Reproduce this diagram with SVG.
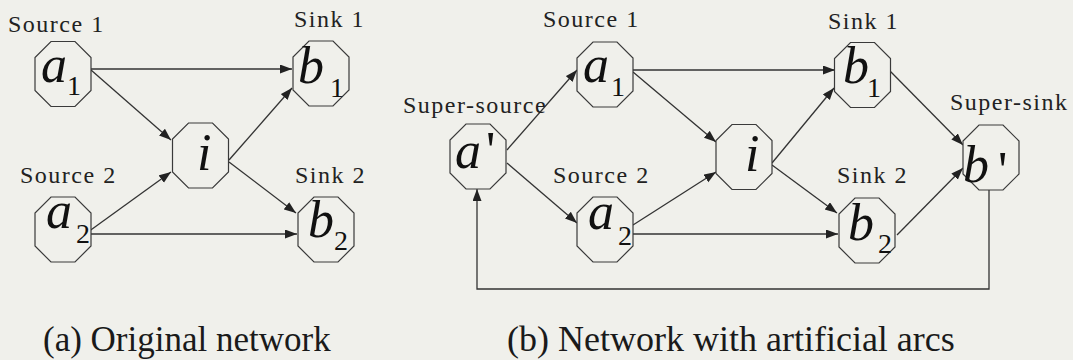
<svg xmlns="http://www.w3.org/2000/svg" width="1073" height="360" viewBox="0 0 1073 360">
<defs>
<marker id="ah" markerUnits="userSpaceOnUse" markerWidth="13" markerHeight="10" refX="12" refY="4.5" orient="auto">
<path d="M0,0 L12,4.5 L0,9 z" fill="#222"/>
</marker>
<polygon id="o" fill="#f0f0eb" stroke="#3a3a3a" stroke-width="1.2" points="-12,-32.5 12,-32.5 28,-16.5 28,16.5 12,32.5 -12,32.5 -28,16.5 -28,-16.5"/>
</defs>
<rect x="0" y="0" width="1073" height="360" fill="#f0f0eb"/>

<g id="connectors" fill="none" stroke="#333" stroke-width="1.3" marker-end="url(#ah)">
<line x1="91" y1="69" x2="292" y2="69"/>
<line x1="91" y1="70" x2="171" y2="140"/>
<line x1="88" y1="232" x2="171" y2="172"/>
<line x1="229" y1="160" x2="292" y2="88"/>
<line x1="229" y1="162" x2="296" y2="213"/>
<line x1="91" y1="234" x2="297" y2="234"/>
<line x1="507" y1="150" x2="577" y2="70"/>
<line x1="507" y1="163" x2="577" y2="223"/>
<line x1="633" y1="70" x2="835" y2="70"/>
<line x1="633" y1="72" x2="716" y2="142"/>
<line x1="633" y1="225" x2="716" y2="172"/>
<line x1="633" y1="234" x2="838" y2="234"/>
<line x1="772" y1="163" x2="834" y2="88"/>
<line x1="772" y1="165" x2="837" y2="213"/>
<line x1="890" y1="71" x2="963" y2="145"/>
<line x1="897" y1="235" x2="963" y2="168"/>
<polyline points="989,190 989,289 477,289 477,189"/>
</g>

<g id="L-a1">
<use href="#o" x="63" y="74"/>
<text font-family="Times New Roman, Liberation Serif, serif" font-size="24" letter-spacing="1.5" fill="#222" x="8" y="32">Source 1</text>
<text font-family="Times New Roman, Liberation Serif, serif" font-style="italic" font-size="52" fill="#111" x="41" y="82">a</text>
<text font-family="Times New Roman, Liberation Serif, serif" font-size="28" fill="#111" x="67" y="95">1</text>
</g>
<g id="L-b1">
<use href="#o" x="321" y="73.5"/>
<text font-family="Times New Roman, Liberation Serif, serif" font-size="24" letter-spacing="1.5" fill="#222" x="294" y="27">Sink 1</text>
<text font-family="Times New Roman, Liberation Serif, serif" font-style="italic" font-size="52" fill="#111" x="298" y="83">b</text>
<text font-family="Times New Roman, Liberation Serif, serif" font-size="28" fill="#111" x="330" y="97">1</text>
</g>
<g id="L-i">
<use href="#o" x="200.5" y="155.5"/>
<text font-family="Times New Roman, Liberation Serif, serif" font-style="italic" font-size="52" fill="#111" x="197" y="170">i</text>
</g>
<g id="L-a2">
<use href="#o" x="63" y="229.5"/>
<text font-family="Times New Roman, Liberation Serif, serif" font-size="24" letter-spacing="1.5" fill="#222" x="20" y="183">Source 2</text>
<text font-family="Times New Roman, Liberation Serif, serif" font-style="italic" font-size="52" fill="#111" x="46" y="228">a</text>
<text font-family="Times New Roman, Liberation Serif, serif" font-size="28" fill="#111" x="76" y="243">2</text>
</g>
<g id="L-b2">
<use href="#o" x="326" y="229.5"/>
<text font-family="Times New Roman, Liberation Serif, serif" font-size="24" letter-spacing="1.5" fill="#222" x="295" y="183">Sink 2</text>
<text font-family="Times New Roman, Liberation Serif, serif" font-style="italic" font-size="52" fill="#111" x="308" y="237">b</text>
<text font-family="Times New Roman, Liberation Serif, serif" font-size="28" fill="#111" x="334" y="250">2</text>
</g>

<g id="R-asuper">
<use href="#o" x="478" y="156.5"/>
<text font-family="Times New Roman, Liberation Serif, serif" font-size="24" letter-spacing="1.5" fill="#222" x="403" y="113">Super-source</text>
<text font-family="Times New Roman, Liberation Serif, serif" font-style="italic" font-size="52" fill="#111" x="455" y="168">a</text>
<text font-family="Times New Roman, Liberation Serif, serif" font-size="52" fill="#111" x="486" y="168">'</text>
</g>
<g id="R-a1">
<use href="#o" x="605" y="74.5"/>
<text font-family="Times New Roman, Liberation Serif, serif" font-size="24" letter-spacing="1.5" fill="#222" x="543" y="27">Source 1</text>
<text font-family="Times New Roman, Liberation Serif, serif" font-style="italic" font-size="52" fill="#111" x="583" y="82">a</text>
<text font-family="Times New Roman, Liberation Serif, serif" font-size="28" fill="#111" x="611" y="96">1</text>
</g>
<g id="R-a2">
<use href="#o" x="605" y="229.5"/>
<text font-family="Times New Roman, Liberation Serif, serif" font-size="24" letter-spacing="1.5" fill="#222" x="553" y="183">Source 2</text>
<text font-family="Times New Roman, Liberation Serif, serif" font-style="italic" font-size="52" fill="#111" x="588" y="229">a</text>
<text font-family="Times New Roman, Liberation Serif, serif" font-size="28" fill="#111" x="618" y="245">2</text>
</g>
<g id="R-i">
<use href="#o" x="744" y="157"/>
<text font-family="Times New Roman, Liberation Serif, serif" font-style="italic" font-size="52" fill="#111" x="745" y="171">i</text>
</g>
<g id="R-b1">
<use href="#o" x="862.5" y="75"/>
<text font-family="Times New Roman, Liberation Serif, serif" font-size="24" letter-spacing="1.5" fill="#222" x="828" y="29">Sink 1</text>
<text font-family="Times New Roman, Liberation Serif, serif" font-style="italic" font-size="52" fill="#111" x="843" y="83">b</text>
<text font-family="Times New Roman, Liberation Serif, serif" font-size="28" fill="#111" x="867" y="97">1</text>
</g>
<g id="R-b2">
<use href="#o" x="867" y="230.5"/>
<text font-family="Times New Roman, Liberation Serif, serif" font-size="24" letter-spacing="1.5" fill="#222" x="837" y="183">Sink 2</text>
<text font-family="Times New Roman, Liberation Serif, serif" font-style="italic" font-size="52" fill="#111" x="848" y="240">b</text>
<text font-family="Times New Roman, Liberation Serif, serif" font-size="28" fill="#111" x="878" y="253">2</text>
</g>
<g id="R-bsuper">
<use href="#o" x="991" y="157.5"/>
<text font-family="Times New Roman, Liberation Serif, serif" font-size="24" letter-spacing="1.5" fill="#222" x="950" y="110">Super-sink</text>
<text font-family="Times New Roman, Liberation Serif, serif" font-style="italic" font-size="52" fill="#111" x="963" y="182">b</text>
<text font-family="Times New Roman, Liberation Serif, serif" font-size="52" fill="#111" x="998" y="188">'</text>
</g>

<g id="captions">
<text font-family="Times New Roman, Liberation Serif, serif" font-size="35" fill="#1a1a1a" x="43" y="351">(a) Original network</text>
<text font-family="Times New Roman, Liberation Serif, serif" font-size="36" fill="#1a1a1a" x="507" y="351">(b) Network with artificial arcs</text>
</g>
</svg>
